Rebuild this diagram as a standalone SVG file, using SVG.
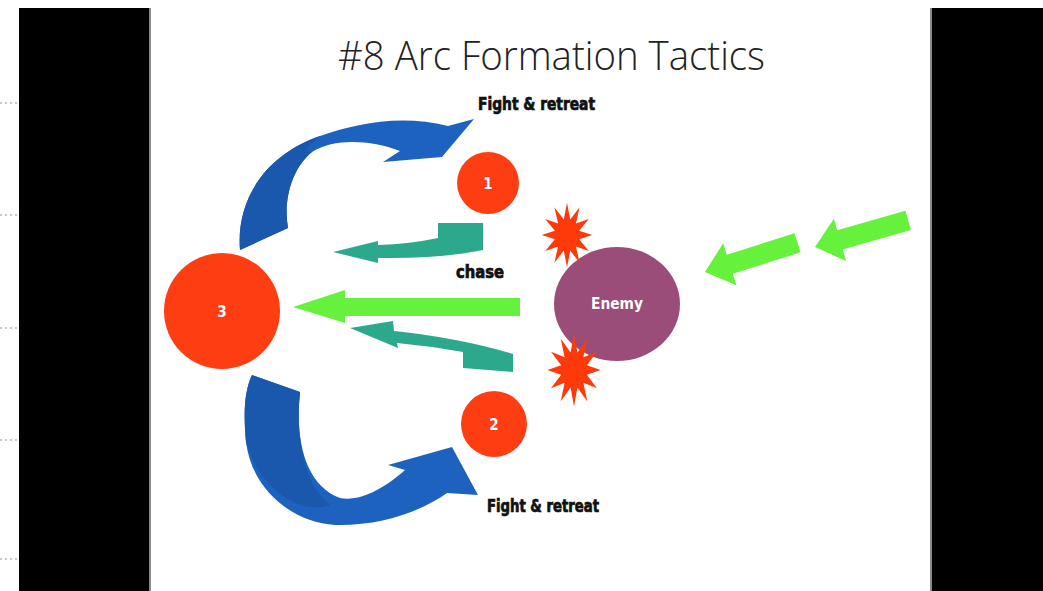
<svg xmlns="http://www.w3.org/2000/svg" width="1043" height="591" viewBox="0 0 1043 591">
<style>
.bar{fill:#000}
.edge{fill:#8a8a8a}
.dot{stroke:#c8c8c8;stroke-width:2;stroke-dasharray:2 3}
.unit{fill:#ff3d12}
.num{font-family:"Liberation Sans Narrow","DejaVu Sans Condensed","Liberation Sans",sans-serif;font-weight:bold;font-size:15px;fill:#fff;text-anchor:middle}
.lbl{font-family:"Liberation Sans Narrow","DejaVu Sans Condensed","Liberation Sans",sans-serif;font-weight:bold;font-size:17px;fill:#111;stroke:#111;stroke-width:0.7}
.blue{fill:#1d62bf}
.blue2{fill:#1a58ad}
.teal{fill:#2ca98c}
.green{fill:#66f23c}
.boom{fill:#ff3a0a}
</style>
<defs>
<polygon id="star" points="28,0 13.5,3.6 24.2,14 9.9,9.9 14,24.2 3.6,13.5 0,28 -3.6,13.5 -14,24.2 -9.9,9.9 -24.2,14 -13.5,3.6 -28,0 -13.5,-3.6 -24.2,-14 -9.9,-9.9 -14,-24.2 -3.6,-13.5 0,-28 3.6,-13.5 14,-24.2 9.9,-9.9 24.2,-14 13.5,-3.6"/>
<path id="garrow" d="M0,0 L26,-22 L26,-10 L97,-10 L97,10 L26,10 L26,22 Z"/>
</defs>
<rect width="1043" height="591" fill="#fff"/>
<g id="frame">
<rect class="bar" x="19" y="8" width="130" height="583"/>
<rect class="edge" x="149" y="8" width="2" height="583"/>
<rect class="bar" x="932" y="8" width="111" height="583"/>
<rect class="edge" x="930" y="8" width="2" height="583"/>
<line class="dot" x1="0" y1="103" x2="18" y2="103"/>
<line class="dot" x1="0" y1="215" x2="18" y2="215"/>
<line class="dot" x1="0" y1="328" x2="18" y2="328"/>
<line class="dot" x1="0" y1="440" x2="18" y2="440"/>
<line class="dot" x1="0" y1="559" x2="18" y2="559"/>
</g>
<g id="title">
<text x="338" y="70" font-family="'Open Sans','Liberation Sans',sans-serif" font-weight="300" font-size="40" fill="#222" textLength="427" lengthAdjust="spacingAndGlyphs">#8 Arc Formation Tactics</text>
</g>
<g id="connectors">
<path id="blue-top" class="blue" d="M240,250 C236,200 265,155 320,136 C355,124 400,114 448,126 L474,119 L442,157 L383,162 L400,151 C370,140 335,138 312,152 C292,168 283,200 288,228 Z"/>
<path id="blue-top-tail" class="blue2" d="M240,250 C236,200 265,155 320,136 C312,145 300,150 312,152 C292,168 283,200 288,228 Z"/>
<path id="blue-bottom" class="blue" d="M252,375 L300,392 C295,440 305,485 340,498 C360,502 385,488 405,470 L388,465 L452,447 L478,495 L447,493 C420,512 380,526 335,525 C292,522 252,490 246,442 C243,410 245,390 252,375 Z"/>
<path id="blue-bottom-tail" class="blue2" d="M252,375 L300,392 C295,440 305,485 330,505 C300,515 260,490 246,442 C243,410 245,390 252,375 Z"/>
<path id="teal-top" class="teal" d="M483,223 L438,223 L438,238 Q410,244 378,245 L378,241 L333,252 L378,263 L378,258 Q440,259 483,250 Z"/>
<path id="teal-bottom" class="teal" d="M350,328 L393,321 L394,331 Q460,338 513,354 L513,372 L463,368 L463,352 Q430,346 397,343 L398,348 Z"/>
<path id="green-main" class="green" d="M293,307 L345,290 L345,298 L520,298 L520,316 L345,316 L345,323 Z"/>
<use href="#garrow" class="green" transform="translate(705,272) rotate(-17.5)"/>
<use href="#garrow" class="green" transform="translate(815,247) rotate(-16)"/>
</g>
<g id="node-1">
<circle class="unit" cx="488" cy="183" r="31"/>
<text class="num" x="488" y="189">1</text>
</g>
<g id="node-2">
<circle class="unit" cx="494" cy="424" r="33"/>
<text class="num" x="494" y="430">2</text>
</g>
<g id="node-3">
<circle class="unit" cx="222" cy="311" r="58"/>
<text class="num" x="222" y="317">3</text>
</g>
<g id="enemy">
<ellipse cx="617" cy="304" rx="63" ry="57" fill="#994d78"/>
<text x="617" y="309" font-family="'Liberation Sans Narrow','DejaVu Sans Condensed','Liberation Sans',sans-serif" font-weight="bold" font-size="16" fill="#fff" text-anchor="middle" textLength="52" lengthAdjust="spacingAndGlyphs">Enemy</text>
</g>
<g id="clash-top">
<use href="#star" class="boom" transform="translate(567,235) scale(0.9,1.15)"/>
</g>
<g id="clash-bottom">
<use href="#star" class="boom" transform="translate(574,370) scale(0.95,1.3)"/>
</g>
<g id="labels">
<text class="lbl" x="478" y="110" textLength="117" lengthAdjust="spacingAndGlyphs">Fight &amp; retreat</text>
<text class="lbl" x="487" y="512" textLength="112" lengthAdjust="spacingAndGlyphs">Fight &amp; retreat</text>
<text class="lbl" x="456" y="278" textLength="48" lengthAdjust="spacingAndGlyphs">chase</text>
</g>
</svg>
